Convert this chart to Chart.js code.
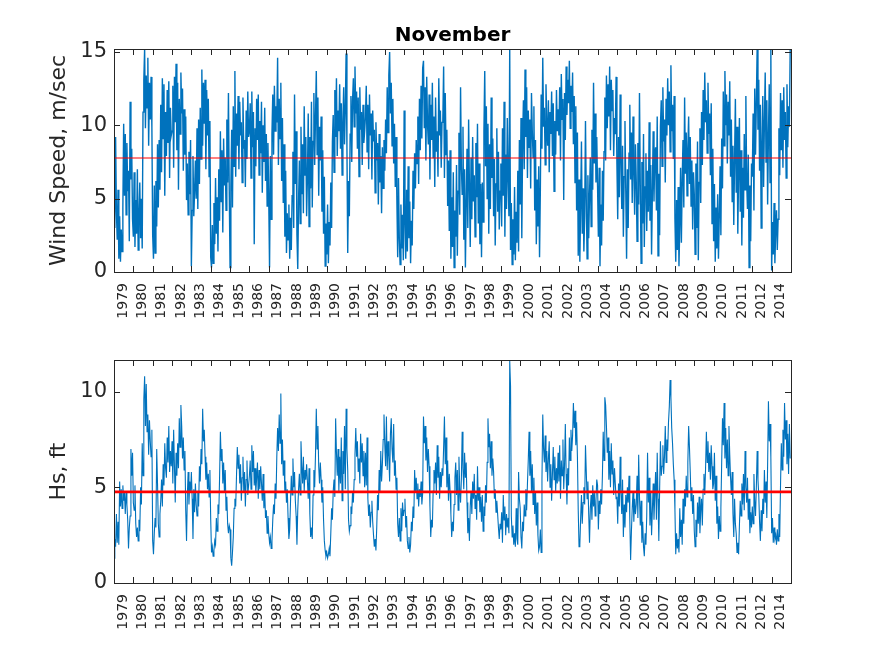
<!DOCTYPE html>
<html>
<head>
<meta charset="utf-8">
<title>November</title>
<script src="https://cdn.jsdelivr.net/npm/chart.js@4.4.1/dist/chart.umd.min.js"></script>
<style>
  body { margin: 0; background: #fff; }
  canvas { position: absolute; left: 0; }
  #windChart { top: 0; }
  #hsChart { top: 330px; }
</style>
</head>
<body>
<canvas id="windChart" width="875" height="330"></canvas>
<canvas id="hsChart" width="875" height="326"></canvas>
<script>
// tick labels, one per November segment (no 2013 in the record)
var years = [1979, 1980, 1981, 1982, 1983, 1984, 1985, 1986, 1987, 1988, 1989, 1990,
  1991, 1992, 1993, 1994, 1995, 1996, 1997, 1998, 1999, 2000, 2001, 2002,
  2003, 2004, 2005, 2006, 2007, 2008, 2009, 2010, 2011, 2012, 2014];

// wind speed, m/sec - 24 readings per November, one row per year
var windSpeed = [
  7.3, 3.0, 9.2, 4.1, 2.2, 5.6, 0.9, 3.8, 0.7, 2.9, 1.4, 4.4, 10.1, 5.2, 9.4, 3.9, 8.8, 5.5, 6.9, 2.1, 11.6, 6.3, 8.4, 3.6,
  2.4, 6.8, 1.7, 4.9, 2.6, 7.0, 1.5, 3.8, 6.1, 2.3, 5.0, 1.6, 10.9, 13.1, 15.2, 9.8, 13.4, 11.2, 14.6, 8.6, 12.9, 10.4, 13.3, 9.9,
  2.5, 0.9, 5.9, 1.3, 6.2, 3.1, 8.7, 4.4, 9.0, 5.6, 11.4, 6.8, 13.2, 9.1, 12.8, 5.2, 10.9, 7.9, 12.4, 8.8, 13.0, 6.4, 11.2, 9.3,
  9.6, 12.7, 7.1, 13.3, 10.2, 14.2, 8.3, 12.9, 5.6, 11.8, 9.4, 13.6, 10.8, 12.5, 6.9, 11.1, 8.0, 10.6, 4.9, 7.4, 3.9, 8.2, 5.3, 9.0,
  0.4, 4.2, 7.9, 3.8, 5.5, 7.6, 5.0, 9.8, 4.3, 10.4, 6.0, 11.2, 7.7, 13.8, 8.6, 12.9, 10.1, 13.1, 7.0, 12.4, 9.3, 11.8, 6.5, 10.3,
  1.0, 0.3, 3.2, 0.6, 4.7, 1.9, 6.4, 2.6, 5.1, 1.4, 7.0, 3.5, 9.6, 4.8, 8.3, 2.7, 9.1, 5.9, 7.8, 4.2, 10.4, 6.1, 12.2, 5.6,
  0.3, 5.8, 9.7, 4.4, 11.3, 7.2, 13.7, 6.5, 10.8, 8.6, 12.0, 7.0, 11.6, 9.3, 10.2, 6.1, 11.9, 8.4, 9.0, 5.8, 11.0, 7.7, 12.3, 9.2,
  9.6, 11.5, 6.4, 12.3, 8.5, 10.9, 1.9, 9.8, 7.2, 11.8, 9.0, 12.1, 6.6, 10.3, 8.1, 11.6, 5.4, 10.0, 7.5, 11.2, 6.2, 9.4, 4.5, 8.8,
  5.1, 0.3, 7.9, 3.6, 9.4, 12.1, 8.0, 12.7, 9.6, 11.3, 10.2, 14.6, 7.3, 11.8, 9.1, 12.9, 6.2, 10.5, 4.7, 8.7, 2.4, 6.9, 1.3, 4.0,
  2.2, 4.6, 0.9, 3.7, 1.5, 5.2, 8.2, 3.0, 12.1, 6.0, 9.6, 2.5, 0.2, 4.8, 7.6, 3.3, 9.9, 5.3, 8.7, 4.0, 11.3, 6.6, 9.2, 3.8,
  6.4, 10.8, 3.1, 9.2, 5.7, 11.6, 4.4, 8.9, 12.2, 7.3, 10.5, 13.7, 8.0, 11.9, 5.2, 9.9, 7.6, 10.6, 4.1, 8.3, 2.6, 6.5, 0.4, 3.3,
  1.2, 4.6, 0.6, 3.4, 1.8, 6.1, 3.0, 8.9, 10.7, 6.8, 12.4, 9.2, 13.2, 7.9, 11.0, 9.6, 12.8, 8.4, 11.5, 6.6, 10.2, 12.6, 8.7, 11.1,
  14.9, 8.6, 1.3, 6.2, 3.8, 9.4, 12.0, 7.5, 11.7, 13.2, 9.9, 14.0, 10.8, 12.3, 8.4, 11.9, 6.5, 12.6, 9.7, 10.9, 7.3, 11.4, 8.8, 9.6,
  10.6, 12.7, 8.2, 11.4, 7.0, 12.1, 9.3, 10.8, 6.3, 11.0, 8.9, 9.7, 5.4, 10.2, 7.6, 8.8, 4.6, 9.4, 6.1, 7.9, 4.0, 8.5, 5.7, 9.0,
  6.9, 10.4, 8.1, 12.6, 9.5, 13.4, 15.0, 10.8, 12.9, 8.6, 11.8, 7.4, 10.1, 5.8, 9.2, 4.9, 1.0, 6.4, 2.3, 0.5, 4.6, 1.6, 3.9, 0.8,
  11.0, 3.2, 0.9, 5.6, 1.4, 7.2, 2.3, 4.8, 0.6, 3.5, 1.8, 6.9, 4.3, 8.1, 5.7, 9.0, 7.4, 10.6, 6.0, 11.8, 8.3, 12.7, 9.1, 13.9,
  14.4, 9.8, 12.6, 7.6, 13.3, 10.1, 8.7, 12.1, 6.3, 11.4, 9.0, 12.9, 7.8, 10.6, 5.8, 11.9, 8.2, 9.6, 6.5, 13.2, 9.3, 11.0, 7.1, 10.2,
  10.3, 14.0, 6.4, 12.2, 8.0, 9.7, 4.5, 7.6, 2.8, 8.3, 0.9, 5.1, 1.7, 6.8, 0.3, 4.2, 2.4, 7.3, 1.1, 5.5, 9.5, 3.9, 12.6, 7.2,
  5.3, 9.9, 2.2, 7.0, 0.3, 4.6, 8.4, 3.0, 10.4, 5.9, 1.7, 7.8, 3.6, 9.2, 4.8, 6.6, 2.4, 8.8, 5.1, 10.1, 3.3, 7.4, 1.9, 6.0,
  1.0, 6.1, 3.4, 9.6, 13.7, 7.2, 11.3, 5.0, 10.1, 2.6, 8.7, 4.3, 11.9, 6.4, 9.1, 3.8, 7.7, 1.8, 6.0, 9.8, 4.1, 8.2, 2.9, 5.5,
  7.4, 3.1, 9.8, 5.2, 11.6, 2.4, 8.0, 4.3, 10.5, 6.3, 3.8, 15.2, 1.5, 4.7, 0.5, 3.6, 1.2, 5.8, 0.8, 4.1, 2.0, 6.9, 1.4, 9.0,
  4.6, 10.5, 2.3, 8.8, 11.7, 7.0, 13.8, 9.2, 12.6, 6.4, 11.0, 8.5, 10.4, 5.7, 12.2, 9.6, 7.8, 11.3, 4.2, 9.0, 1.9, 6.3, 3.1, 7.2,
  1.0, 5.6, 12.1, 8.4, 14.6, 9.9, 11.2, 7.3, 12.8, 10.1, 8.6, 11.7, 6.8, 10.9, 9.4, 12.3, 7.9, 11.5, 5.5, 10.3, 8.0, 12.4, 9.6, 11.1,
  9.3, 12.6, 7.6, 13.5, 10.4, 11.8, 4.9, 12.2, 9.0, 14.0, 10.7, 13.1, 11.5, 14.4, 9.8, 12.7, 10.9, 13.6, 8.7, 12.0, 6.1, 11.3, 4.2, 9.5,
  1.1, 6.3, 0.7, 4.5, 8.9, 2.6, 5.7, 1.4, 3.8, 10.3, 4.9, 0.9, 6.6, 2.3, 5.2, 7.8, 3.1, 9.7, 5.6, 12.9, 7.4, 10.8, 6.1, 9.2,
  5.8, 2.4, 7.1, 0.4, 4.6, 1.8, 6.9, 3.5, 8.2, 11.9, 7.6, 13.4, 9.8, 12.8, 10.6, 14.0, 8.3, 13.1, 11.0, 12.4, 7.9, 10.5, 9.4, 13.3,
  7.4, 3.6, 9.2, 5.1, 12.1, 7.7, 4.3, 8.6, 2.4, 6.5, 10.3, 5.5, 0.9, 7.0, 3.0, 8.1, 11.4, 6.3, 9.5, 4.7, 10.6, 6.9, 3.9, 8.7,
  6.2, 2.1, 8.8, 4.6, 12.2, 5.9, 0.6, 7.5, 3.3, 9.4, 1.7, 5.8, 8.1, 2.8, 6.9, 4.1, 10.2, 3.5, 7.3, 1.2, 5.4, 9.6, 4.8, 7.9,
  8.5, 4.2, 10.6, 1.1, 6.7, 2.5, 9.9, 11.7, 7.2, 12.6, 8.9, 10.4, 6.1, 11.8, 9.3, 13.2, 10.0, 12.3, 8.2, 14.1, 9.6, 11.4, 7.7, 12.0,
  3.6, 0.7, 4.9, 1.5, 5.8, 0.4, 3.2, 7.1, 2.0, 6.3, 9.0, 4.4, 11.9, 6.7, 9.5, 5.2, 8.4, 10.6, 6.0, 9.2, 4.5, 7.6, 2.9, 6.8,
  5.3, 1.2, 7.4, 3.0, 8.9, 0.8, 6.1, 9.8, 4.7, 10.9, 7.3, 12.4, 9.0, 13.6, 10.2, 11.7, 8.1, 12.9, 9.4, 10.8, 6.6, 11.5, 3.3, 8.4,
  2.1, 6.0, 0.7, 4.4, 1.6, 5.3, 0.9, 3.8, 7.2, 2.5, 9.1, 5.7, 12.3, 8.6, 13.7, 10.0, 12.1, 7.4, 11.6, 9.3, 13.0, 6.5, 10.4, 4.8,
  8.6, 3.2, 7.7, 11.8, 5.4, 9.9, 2.6, 6.8, 10.5, 4.1, 8.3, 1.8, 7.1, 3.7, 9.4, 5.6, 12.0, 6.2, 4.3, 8.0, 0.3, 5.9, 2.1, 7.4,
  6.5, 10.8, 4.2, 12.5, 8.0, 11.6, 15.2, 9.7, 13.1, 6.9, 11.4, 3.0, 8.7, 12.0, 5.8, 10.2, 13.6, 7.5, 11.7, 4.6, 9.3, 12.8, 6.1, 15.2,
  0.1, 3.4, 1.2, 4.7, 0.6, 2.8, 4.2, 1.5, 3.6, 9.8, 6.6, 12.2, 8.3, 11.7, 7.1, 12.6, 9.0, 10.9, 6.4, 12.8, 8.5, 11.3, 9.9, 15.2
];

// significant wave height, ft - same sampling
var waveHeight = [
  1.3, 2.3, 1.9, 3.6, 2.1, 3.2, 2.0, 5.3, 4.0, 4.9, 3.9, 5.1, 4.3, 4.7, 3.6, 4.8, 4.1, 3.3, 1.8, 2.9, 3.5, 7.0, 5.6, 6.8,
  4.2, 3.8, 5.1, 3.1, 2.4, 2.9, 2.2, 3.3, 2.7, 5.0, 4.1, 7.3, 5.6, 9.6, 10.8, 8.2, 10.4, 7.9, 8.8, 6.7, 8.5, 7.4, 6.6, 8.0,
  2.2, 1.5, 2.6, 3.4, 2.9, 7.0, 5.2, 3.1, 2.4, 3.6, 4.3, 5.4, 4.0, 6.2, 5.1, 7.3, 6.0, 5.5, 7.6, 6.3, 8.2, 5.8, 6.9, 6.1,
  7.4, 5.2, 8.0, 6.1, 4.2, 6.8, 5.6, 7.3, 6.0, 8.6, 7.1, 9.3, 8.2, 6.5, 7.6, 5.9, 6.9, 3.8, 2.2, 4.6, 5.8, 4.1, 5.3, 4.7,
  5.8, 4.4, 2.3, 4.9, 3.7, 5.2, 4.1, 3.5, 4.8, 4.0, 6.1, 5.3, 7.0, 6.2, 9.1, 7.4, 8.0, 6.6, 5.4, 6.3, 4.9, 5.7, 4.5, 5.9,
  3.3, 1.6, 1.9, 1.4, 1.7, 2.2, 2.0, 3.4, 2.7, 4.1, 3.6, 5.5, 7.9, 6.4, 7.0, 5.2, 6.3, 4.8, 5.9, 3.8, 4.5, 3.1, 2.6, 3.0,
  2.8, 1.3, 0.9, 1.6, 2.4, 3.9, 4.4, 4.0, 5.6, 7.1, 6.0, 6.7, 5.2, 6.2, 4.3, 5.5, 6.6, 4.8, 5.8, 4.0, 5.4, 6.4, 4.6, 5.1,
  5.6, 6.4, 4.9, 7.2, 5.8, 6.9, 5.1, 6.0, 4.7, 5.5, 6.3, 4.4, 5.9, 4.9, 6.1, 5.2, 4.3, 5.7, 3.9, 4.8, 3.4, 3.8, 2.6, 3.5,
  2.6, 2.1, 2.4, 1.8, 2.2, 3.3, 4.1, 3.6, 5.2, 4.4, 6.6, 8.1, 6.9, 8.8, 7.3, 9.9, 6.2, 7.5, 5.6, 6.4, 4.7, 5.3, 4.2, 4.9,
  3.4, 2.3, 2.8, 4.2, 5.6, 4.6, 6.5, 5.0, 5.8, 4.3, 3.5, 2.0, 3.8, 4.9, 5.7, 4.6, 7.4, 6.1, 5.2, 6.6, 4.8, 5.9, 5.4, 6.2,
  5.3, 4.4, 6.0, 3.6, 2.4, 2.9, 2.3, 4.6, 5.9, 5.0, 6.7, 9.1, 7.0, 8.2, 6.1, 5.2, 6.3, 5.4, 4.2, 5.0, 3.3, 2.2, 1.7, 1.4,
  1.6, 1.3, 1.5, 1.8, 1.4, 2.6, 3.9, 3.3, 4.8, 5.4, 4.5, 8.6, 6.8, 5.6, 7.0, 4.8, 6.6, 5.2, 7.6, 4.3, 6.9, 5.7, 8.2, 4.9,
  9.1, 7.0, 5.9, 3.3, 2.7, 3.0, 4.0, 3.6, 4.8, 4.2, 5.4, 6.7, 8.1, 6.6, 7.4, 5.8, 6.5, 5.2, 7.8, 6.3, 7.3, 5.6, 6.9, 5.0,
  6.8, 5.1, 7.6, 4.4, 3.5, 4.1, 2.9, 3.7, 4.3, 3.2, 2.5, 1.9, 2.3, 1.7, 2.9, 4.6, 3.8, 5.9, 4.7, 6.9, 5.3, 6.2, 7.5, 8.8,
  7.2, 6.1, 8.7, 5.9, 7.4, 6.6, 5.3, 7.8, 8.6, 7.0, 6.3, 8.3, 5.6, 6.4, 4.9, 5.5, 3.1, 2.4, 3.4, 2.2, 3.9, 2.7, 4.2, 3.5,
  3.8, 4.4, 2.9, 3.5, 2.2, 1.8, 2.4, 1.6, 2.0, 3.2, 2.7, 4.0, 3.4, 5.9, 4.8, 5.5, 4.4, 5.2, 4.0, 4.9, 4.5, 5.3, 4.1, 4.7,
  8.7, 7.3, 8.2, 6.4, 7.6, 5.8, 7.0, 6.1, 4.0, 2.4, 3.3, 2.9, 4.8, 5.9, 5.2, 6.3, 4.6, 7.2, 5.5, 6.6, 4.4, 5.8, 5.0, 6.0,
  5.6, 7.1, 8.7, 6.2, 7.6, 5.0, 6.4, 4.3, 5.7, 4.8, 3.6, 2.4, 3.2, 2.7, 4.1, 5.5, 6.3, 4.6, 5.9, 3.8, 6.6, 4.9, 4.2, 5.4,
  7.9, 6.0, 4.9, 6.8, 5.5, 6.3, 4.2, 2.6, 3.4, 2.2, 4.0, 4.8, 3.6, 5.3, 4.4, 5.7, 3.9, 4.6, 3.3, 6.1, 4.3, 5.0, 3.7, 4.5,
  3.2, 4.6, 2.7, 4.0, 3.5, 5.1, 4.2, 6.3, 8.6, 7.1, 7.8, 6.0, 7.4, 5.6, 6.5, 5.8, 4.4, 4.9, 3.7, 4.3, 3.6, 2.9, 2.3, 3.1,
  2.8, 3.7, 2.1, 4.6, 3.3, 4.0, 2.5, 3.6, 2.9, 3.4, 2.6, 11.6, 10.3, 3.5, 2.4, 3.0, 2.0, 2.6, 1.9, 3.9, 2.3, 2.0, 5.8, 4.4,
  3.9, 2.4, 1.8, 3.2, 2.7, 4.1, 3.5, 4.9, 3.8, 5.2, 6.4, 7.9, 5.6, 6.9, 4.7, 6.2, 4.1, 5.5, 3.6, 4.8, 3.0, 4.2, 2.5, 1.7,
  1.9, 2.8, 1.6, 5.4, 8.8, 7.0, 6.3, 7.7, 5.8, 6.9, 5.3, 6.5, 7.4, 5.0, 6.2, 4.3, 5.7, 7.1, 5.4, 6.6, 4.8, 6.0, 5.2, 6.8,
  5.3, 7.2, 4.4, 6.4, 5.6, 7.5, 4.9, 6.1, 8.3, 5.7, 4.1, 6.0, 5.1, 7.6, 6.4, 8.0, 6.9, 7.7, 9.4, 8.1, 9.0, 7.2, 8.4, 6.6,
  3.8, 1.9, 2.0, 3.4, 4.6, 3.1, 4.2, 5.0, 4.1, 7.2, 5.8, 4.4, 5.3, 3.6, 2.1, 3.9, 4.6, 3.3, 5.1, 4.0, 4.7, 3.5, 4.3, 5.4,
  5.1, 2.8, 4.3, 3.6, 4.9, 4.1, 5.6, 7.9, 6.4, 9.7, 9.3, 8.2, 6.8, 7.6, 5.4, 6.9, 5.0, 7.3, 5.7, 6.4, 4.6, 6.0, 5.2, 4.4,
  4.5, 3.1, 5.2, 4.0, 6.6, 4.7, 3.6, 5.4, 2.4, 4.1, 2.9, 4.6, 3.7, 5.0, 4.2, 5.6, 3.3, 1.2, 2.7, 3.9, 4.8, 3.2, 4.4, 3.6,
  4.1, 5.6, 3.4, 6.7, 4.5, 3.0, 4.3, 2.1, 3.2, 1.9, 1.4, 2.6, 2.0, 3.5, 6.8, 4.2, 5.5, 3.0, 4.7, 2.5, 3.8, 5.2, 3.3, 4.6,
  5.8, 3.3, 6.8, 4.4, 2.2, 4.9, 7.4, 5.6, 6.1, 7.2, 5.7, 6.6, 8.2, 6.3, 7.5, 6.9, 8.4, 9.2, 10.6, 9.7, 8.1, 7.3, 6.2, 5.4,
  3.8, 1.5, 2.6, 1.8, 2.3, 1.6, 3.9, 2.4, 3.3, 2.0, 4.4, 3.1, 4.9, 4.0, 5.6, 4.5, 6.3, 8.2, 7.1, 5.8, 4.3, 5.0, 3.6, 4.6,
  2.7, 1.9, 3.3, 2.4, 4.2, 3.1, 4.5, 2.6, 3.8, 4.4, 3.0, 4.9, 5.7, 4.6, 6.0, 7.9, 6.3, 7.4, 5.8, 6.8, 5.4, 7.2, 6.1, 4.9,
  5.2, 6.8, 4.3, 5.6, 3.1, 4.0, 2.3, 3.5, 2.7, 3.9, 6.3, 8.6, 7.2, 9.4, 6.5, 8.1, 6.0, 7.5, 5.6, 8.2, 6.7, 5.5, 4.6, 5.8,
  3.6, 2.4, 4.4, 3.1, 2.6, 1.6, 2.1, 1.5, 3.0, 4.3, 3.5, 5.2, 4.1, 5.7, 3.8, 6.9, 5.0, 4.2, 5.5, 3.3, 4.4, 2.6, 3.7, 2.9,
  4.0, 3.1, 5.7, 4.3, 3.5, 5.0, 6.9, 5.4, 4.6, 3.2, 2.2, 3.8, 2.7, 4.4, 3.6, 5.9, 4.2, 5.3, 3.4, 6.2, 9.5, 7.4, 8.3, 6.6,
  2.6, 3.4, 2.1, 2.9, 2.3, 2.5, 2.0, 2.8, 2.2, 3.6, 2.4, 5.1, 7.3, 5.9, 8.0, 6.6, 9.4, 7.5, 8.5, 6.2, 7.8, 5.7, 8.3, 6.5
];

// long-term November means (red lines)
var windMean = 7.77;
var waveMean = 4.76;

var FONT = 'DejaVu Sans';
var AXIS_COLOR = '#262626';

// x position of each reading: segment index + fraction within the month
function toPoints(values) {
  var perYear = values.length / years.length;
  return values.map(function (v, i) { return { x: i / perYear, y: v }; });
}

// MATLAB-like box with inward tick marks on all four sides
var boxPlugin = {
  id: 'boxPlugin',
  afterDatasetsDraw: function (chart) {
    var ctx = chart.ctx, a = chart.chartArea;
    var xs = chart.scales.x, ys = chart.scales.y;
    ctx.save();
    ctx.strokeStyle = AXIS_COLOR;
    ctx.lineWidth = 1;
    ctx.beginPath();
    xs.ticks.forEach(function (t) {
      var px = Math.round(xs.getPixelForValue(t.value)) + 0.5;
      ctx.moveTo(px, a.top); ctx.lineTo(px, a.top + 6);
      ctx.moveTo(px, a.bottom); ctx.lineTo(px, a.bottom - 6);
    });
    ys.ticks.forEach(function (t) {
      var py = Math.round(ys.getPixelForValue(t.value)) + 0.5;
      ctx.moveTo(a.left, py); ctx.lineTo(a.left + 6, py);
      ctx.moveTo(a.right, py); ctx.lineTo(a.right - 6, py);
    });
    ctx.stroke();
    ctx.strokeRect(Math.round(a.left) + 0.5, Math.round(a.top) + 0.5,
      Math.round(a.right - a.left), Math.round(a.bottom - a.top));
    ctx.restore();
  }
};

function makeChart(id, values, mean, yMax, yLabel, titleText, lineWidth, meanWidth, topPad, xAxisHeight) {
  var ctx = document.getElementById(id).getContext('2d');
  return new Chart(ctx, {
    type: 'line',
    data: {
      datasets: [
        { data: [{ x: 0, y: mean }, { x: years.length, y: mean }], borderColor: '#ff0000',
          borderWidth: meanWidth, pointRadius: 0, order: 0 },
        { data: toPoints(values), borderColor: '#0072bd', borderWidth: lineWidth,
          pointRadius: 0, tension: 0, order: 1 }
      ]
    },
    options: {
      responsive: false,
      animation: false,
      events: [],
      layout: { padding: { left: 0, right: 84, top: topPad, bottom: 0 } },
      plugins: {
        legend: { display: false },
        tooltip: { enabled: false },
        title: {
          display: !!titleText,
          text: titleText,
          color: '#000',
          fullSize: false,
          font: { family: FONT, size: 20, weight: 'bold', lineHeight: 1.2 },
          padding: { top: 24, bottom: 1 }
        }
      },
      scales: {
        x: {
          type: 'linear',
          min: 0,
          max: years.length,
          grid: { display: false, drawTicks: false },
          border: { display: false },
          ticks: {
            stepSize: 1,
            autoSkip: false,
            minRotation: 90,
            maxRotation: 90,
            labelOffset: 9,
            padding: 11,
            color: AXIS_COLOR,
            font: { family: FONT, size: 14 },
            callback: function (v) { return years[v] !== undefined ? String(years[v]) : ''; }
          },
          afterFit: function (s) { s.height = xAxisHeight; }
        },
        y: {
          min: 0,
          max: yMax,
          grid: { display: false, drawTicks: false },
          border: { display: false },
          ticks: {
            stepSize: 5,
            includeBounds: false,
            padding: 7,
            color: AXIS_COLOR,
            font: { family: FONT, size: 21 }
          },
          title: {
            display: true,
            text: yLabel,
            color: AXIS_COLOR,
            font: { family: FONT, size: 22 },
            padding: { top: 46, bottom: 0 }
          },
          afterFit: function (s) { s.width = 114; }
        }
      }
    },
    plugins: [boxPlugin]
  });
}

makeChart('windChart', windSpeed, windMean, 15.2, 'Wind Speed, m/sec', 'November', 1.4, 1.2, 0, 58);
makeChart('hsChart', waveHeight, waveMean, 11.65, 'Hs, ft', '', 1.1, 2.6, 30, 73);
</script>
</body>
</html>
